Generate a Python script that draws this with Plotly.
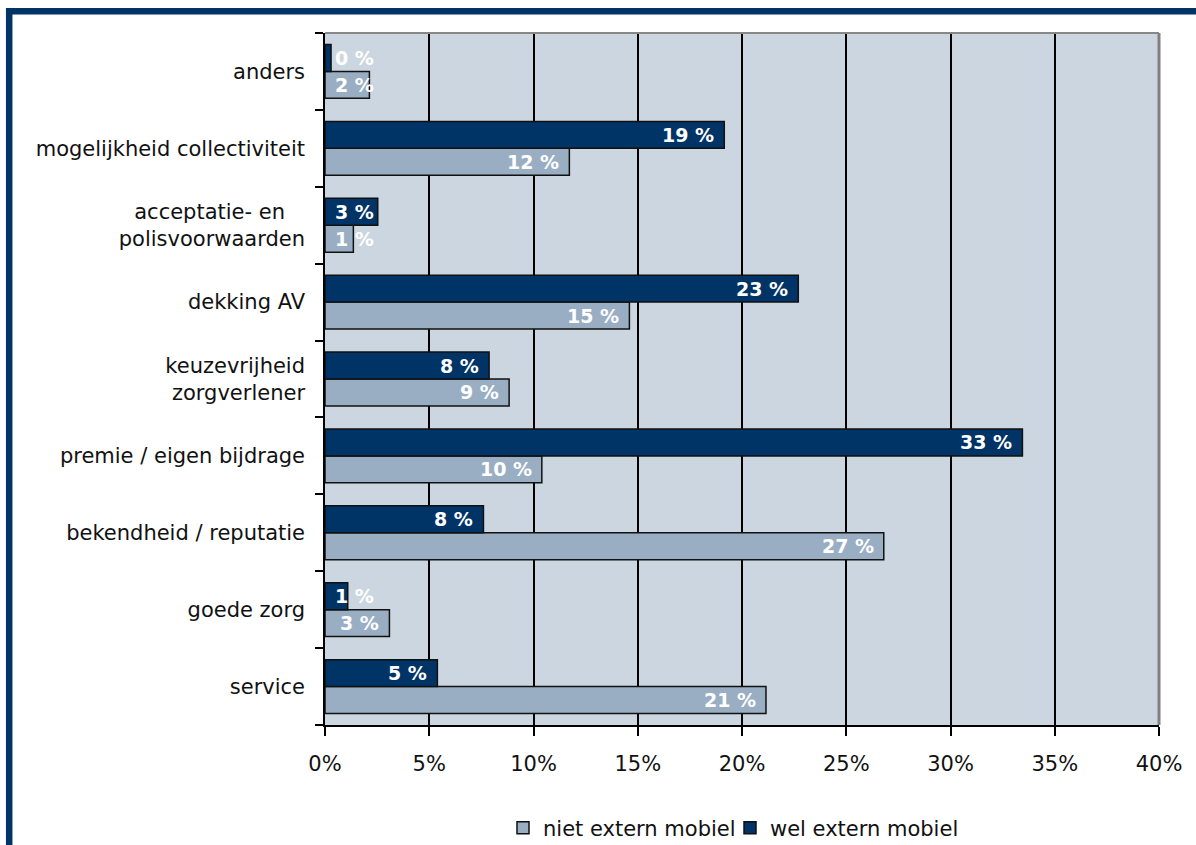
import plotly.graph_objects as go

# Categories, bottom to top as drawn
categories = [
    "service",
    "goede zorg",
    "bekendheid / reputatie",
    "premie / eigen bijdrage",
    "keuzevrijheid<br>zorgverlener",
    "dekking AV",
    "acceptatie- en\u00a0\u00a0\u00a0<br>polisvoorwaarden",
    "mogelijkheid collectiviteit",
    "anders",
]
niet_extern_mobiel = [21.15, 3.09, 26.8, 10.4, 8.83, 14.6, 1.36, 11.72, 2.13]
wel_extern_mobiel = [5.39, 1.09, 7.6, 33.45, 7.87, 22.7, 2.53, 19.15, 0.29]
series_names = ["niet extern mobiel", "wel extern mobiel"]
x_ticks = [0, 5, 10, 15, 20, 25, 30, 35, 40]
x_tick_labels = ["0%", "5%", "10%", "15%", "20%", "25%", "30%", "35%", "40%"]

DARK = "#003366"
LIGHT = "#99AEC3"
PLOTBG = "#CCD6E0"
FONT = "DejaVu Sans"

# layout geometry (px)
W, H = 1196, 845
ML, MR, MT, MB = 325, 37, 33, 120
PW, PH = W - ML - MR, H - MT - MB
BARGAP = 0.3

fig = go.Figure()
for name, vals, col in [(series_names[0], niet_extern_mobiel, LIGHT),
                        (series_names[1], wel_extern_mobiel, DARK)]:
    fig.add_trace(go.Bar(
        y=categories, x=vals, orientation="h", name=name,
        marker=dict(color=col, line=dict(color="#111111", width=1.5)),
        hoverinfo="skip",
    ))

# value labels
slot = PH / len(categories)
half = slot * (1 - BARGAP) / 4
px_per_unit = PW / 40.0
label_w = 40
annotations = []
for vals, shift in [(niet_extern_mobiel, -half), (wel_extern_mobiel, half)]:
    for cat, v in zip(categories, vals):
        fits = v * px_per_unit - 8 - label_w >= 8
        annotations.append(dict(
            x=v if fits else 0, y=cat, xref="x", yref="y",
            text=f"{round(v)} %", showarrow=False,
            xanchor="right" if fits else "left",
            xshift=-8 if fits else 8, yshift=shift,
            font=dict(family=FONT, size=19, color="white", weight="bold"),
        ))

def px_x(p):
    return (p - ML) / PW

def px_y(p):
    return (H - MB - p) / PH

shapes = [
    # grey top and right plot border
    dict(type="line", xref="paper", yref="paper", x0=0, x1=1, y0=1, y1=1,
         line=dict(color="#888888", width=2)),
    dict(type="line", xref="paper", yref="paper", x0=1, x1=1, y0=0, y1=1,
         line=dict(color="#808080", width=3)),
    # dark frame around the figure
    dict(type="rect", xref="paper", yref="paper",
         x0=px_x(9.2), x1=px_x(1215), y0=px_y(870), y1=px_y(11.3),
         line=dict(color=DARK, width=6.5), fillcolor="rgba(0,0,0,0)"),
]

fig.update_layout(
    width=W, height=H,
    margin=dict(l=ML, r=MR, t=MT, b=MB, pad=0, autoexpand=False),
    paper_bgcolor="white", plot_bgcolor=PLOTBG,
    barmode="group", bargap=BARGAP, bargroupgap=0,
    font=dict(family=FONT, size=21, color="#111111"),
    showlegend=True,
    legend=dict(orientation="h", x=0.5 - 12 / PW, xanchor="center",
                yref="container", y=(H - 828) / H, yanchor="middle",
                font=dict(family=FONT, size=21),
                traceorder="normal", itemwidth=30, entrywidth=182),
    annotations=annotations,
    shapes=shapes,
    xaxis=dict(range=[0, 40], tickmode="array", tickvals=x_ticks,
               ticktext=x_tick_labels,
               showgrid=True, gridcolor="#000000", gridwidth=1.5,
               zeroline=False, showline=True, linecolor="#000000", linewidth=1.5,
               ticks="outside", ticklen=9, tickcolor="#000000", tickwidth=1.5,
               ticklabelstandoff=10,
               tickfont=dict(family=FONT, size=21), fixedrange=True),
    yaxis=dict(type="category", categoryorder="array", categoryarray=categories,
               showgrid=False, zeroline=False, showline=True,
               linecolor="#000000", linewidth=1.5,
               ticks="outside", ticklen=8, tickcolor="#000000", tickwidth=1.5,
               tickson="boundaries", ticklabelstandoff=14,
               tickfont=dict(family=FONT, size=21), fixedrange=True),
)

fig.write_html("out.html")
